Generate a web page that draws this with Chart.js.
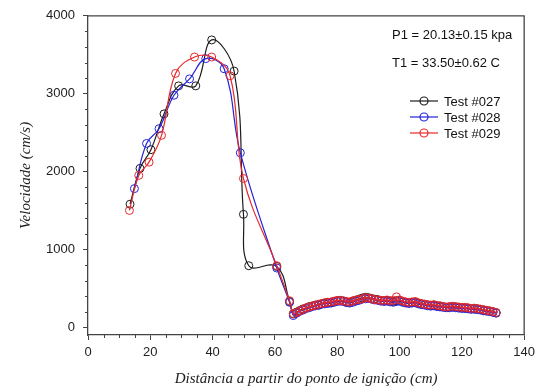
<!DOCTYPE html>
<html>
<head>
<meta charset="utf-8">
<script src="https://cdn.jsdelivr.net/npm/chart.js@4.4.1/dist/chart.umd.min.js"></script>
<style>
  html, body { margin: 0; padding: 0; background: #fff; }
  #wrap { width: 540px; height: 391px; }
</style>
</head>
<body>
<div id="wrap"><canvas id="myChart" width="540" height="391"></canvas></div>
<script>
// values (x = distance cm, y = velocity cm/s)
const test027X = [13.5, 16.7, 20.2, 24.4, 29.1, 34.6, 39.7, 46.9, 49.9, 51.6, 60.6, 64.7, 65.9];
const test027Y = [1580, 2040, 2280, 2740, 3100, 3100, 3690, 3290, 1450, 790, 780, 330, 170];

const test028X = [14.9, 18.8, 22.8, 27.6, 32.6, 37.8, 43.7, 48.9, 60.6, 64.7, 65.9];
const test028Y = [1780, 2360, 2550, 2980, 3190, 3450, 3320, 2240, 760, 320, 150];

const test029X = [13.3, 16.3, 19.6, 23.6, 28.1, 34.2, 39.7, 45.6, 49.9, 60.6, 64.7, 65.9];
const test029Y = [1500, 1950, 2120, 2465, 3260, 3470, 3470, 3230, 1910, 790, 340, 175];

// the dense tail after the drop
const tailX = [67, 68, 69, 70, 71, 72, 73, 74, 75, 76, 77, 78, 79, 80, 81, 82, 83, 84, 85, 86,
  87, 88, 89, 90, 91, 92, 93, 94, 95, 96, 97, 98, 99, 100, 101, 102, 103, 104, 105, 106,
  107, 108, 109, 110, 111, 112, 113, 114, 115, 116, 117, 118, 119, 120, 121, 122, 123, 124, 125, 126,
  127, 128, 129, 130, 131];
const tail027Y = [195, 215, 235, 245, 265, 270, 285, 290, 300, 310, 320, 315, 330, 340, 345, 335, 325, 320, 335, 345,
  360, 375, 385, 380, 370, 360, 355, 345, 340, 345, 335, 330, 340, 345, 330, 320, 310, 320, 325, 310,
  300, 295, 285, 280, 285, 275, 270, 265, 255, 260, 265, 260, 255, 250, 250, 245, 235, 240, 235, 230,
  220, 215, 205, 200, 185];
const tail028Y = [180, 205, 220, 240, 250, 265, 275, 280, 295, 300, 305, 310, 320, 330, 335, 330, 315, 310, 320, 335,
  345, 360, 365, 370, 360, 350, 345, 335, 330, 335, 325, 320, 330, 335, 320, 310, 305, 310, 315, 300,
  290, 285, 275, 270, 275, 265, 260, 255, 250, 250, 255, 250, 245, 240, 240, 235, 230, 230, 225, 220,
  210, 205, 200, 190, 180];
const tail029Y = [190, 210, 230, 250, 260, 275, 280, 295, 305, 315, 320, 325, 335, 345, 340, 340, 330, 325, 340, 350,
  355, 365, 380, 375, 365, 355, 350, 345, 345, 350, 340, 345, 390, 350, 335, 325, 320, 325, 330, 315,
  305, 295, 290, 285, 290, 280, 275, 265, 260, 265, 270, 265, 260, 255, 255, 250, 240, 245, 240, 230,
  225, 215, 210, 200, 190];

const xTicks = [0, 20, 40, 60, 80, 100, 120, 140];
const yTicks = [0, 1000, 2000, 3000, 4000];

function toPoints(xs, ys) {
  return xs.map((x, i) => ({x: x, y: ys[i]}));
}

const ctx = document.getElementById('myChart');
const sans = '"Liberation Sans", Arial, sans-serif';
const serif = '"Liberation Serif", "DejaVu Serif", serif';

// text block + legend in the upper right, minor ticks, frame
const extras = {
  id: 'extras',
  afterDraw(chart) {
    const c = chart.ctx;
    const a = chart.chartArea;
    const xs = chart.scales.x, ys = chart.scales.y;
    c.save();
    c.strokeStyle = '#444';
    c.lineWidth = 1.3;
    c.beginPath();
    c.moveTo(a.left, a.top); c.lineTo(a.right, a.top); c.lineTo(a.right, a.bottom);
    c.stroke();
    // minor ticks
    c.lineWidth = 1;
    c.beginPath();
    for (let v = 5; v < 140; v += 5) {
      if (v % 20 === 0) continue;
      const px = Math.round(xs.getPixelForValue(v)) + 0.5;
      c.moveTo(px, a.bottom); c.lineTo(px, a.bottom + 3);
    }
    for (let v = 200; v < 4000; v += 200) {
      if (v % 1000 === 0) continue;
      const py = Math.round(ys.getPixelForValue(v)) + 0.5;
      c.moveTo(a.left, py); c.lineTo(a.left - 3, py);
    }
    c.stroke();
    // annotations
    c.fillStyle = '#111';
    c.font = '13px ' + sans;
    c.textBaseline = 'middle';
    c.textAlign = 'left';
    c.fillText('P1 = 20.13\u00b10.15 kpa', 392, 35);
    c.fillText('T1 = 33.50\u00b10.62 C', 392, 63);
    // legend
    chart.data.datasets.forEach((ds, i) => {
      const y = 101 + i * 16;
      c.strokeStyle = ds.borderColor;
      c.lineWidth = 1.2;
      c.beginPath();
      c.moveTo(410, y); c.lineTo(438, y);
      c.stroke();
      c.beginPath();
      c.arc(424, y, 4, 0, Math.PI * 2);
      c.stroke();
      c.fillStyle = '#111';
      c.fillText(ds.label, 444, y + 1);
    });
    c.restore();
  }
};

const myChart = new Chart(ctx, {
  type: 'line',
  data: {
    datasets: [{
      label: 'Test #027',
      data: toPoints(test027X.concat(tailX), test027Y.concat(tail027Y)),
      borderColor: '#1c1c1c',
      order: 2
    }, {
      label: 'Test #028',
      data: toPoints(test028X.concat(tailX), test028Y.concat(tail028Y)),
      borderColor: '#2323d8',
      order: 1
    }, {
      label: 'Test #029',
      data: toPoints(test029X.concat(tailX), test029Y.concat(tail029Y)),
      borderColor: '#e8282a',
      order: 0
    }]
  },
  options: {
    responsive: false,
    animation: false,
    devicePixelRatio: 1,
    elements: {
      line: { borderWidth: 1.2, tension: 0.4, fill: false },
      point: { radius: 4, borderWidth: 1, backgroundColor: 'rgba(0,0,0,0)', pointStyle: 'circle' }
    },
    layout: { padding: { left: 0, right: 10, top: 14, bottom: 0 } },
    plugins: { legend: { display: false }, tooltip: { enabled: false } },
    scales: {
      x: {
        type: 'linear',
        min: 0, max: 140,
        afterBuildTicks: (s) => { s.ticks = xTicks.map(v => ({value: v})); },
        afterFit: (s) => { s.height = 56; },
        grid: { drawOnChartArea: false, tickLength: 5, tickColor: '#444' },
        border: { color: '#444', width: 1.3 },
        ticks: { color: '#222', padding: 5, maxRotation: 0, callback: (v) => String(v), font: { family: sans, size: 13 } },
        title: {
          display: true,
          text: 'Distância a partir do ponto de ignição (cm)',
          color: '#222',
          font: { family: serif, size: 15, style: 'italic' },
          padding: { top: 3, bottom: 3 }
        }
      },
      y: {
        type: 'linear',
        min: -100, max: 4000,
        afterBuildTicks: (s) => { s.ticks = yTicks.map(v => ({value: v})); },
        afterFit: (s) => { s.width = 88; },
        grid: { drawOnChartArea: false, tickLength: 5, tickColor: '#444' },
        border: { color: '#444', width: 1.3 },
        ticks: { color: '#222', padding: 8, callback: (v) => String(v), font: { family: sans, size: 13 } },
        title: {
          display: true,
          text: 'Velocidade (cm/s)',
          color: '#222',
          font: { family: serif, size: 15, style: 'italic' },
          padding: { top: 17, bottom: 0 }
        }
      }
    }
  },
  plugins: [extras]
});
</script>
</body>
</html>
